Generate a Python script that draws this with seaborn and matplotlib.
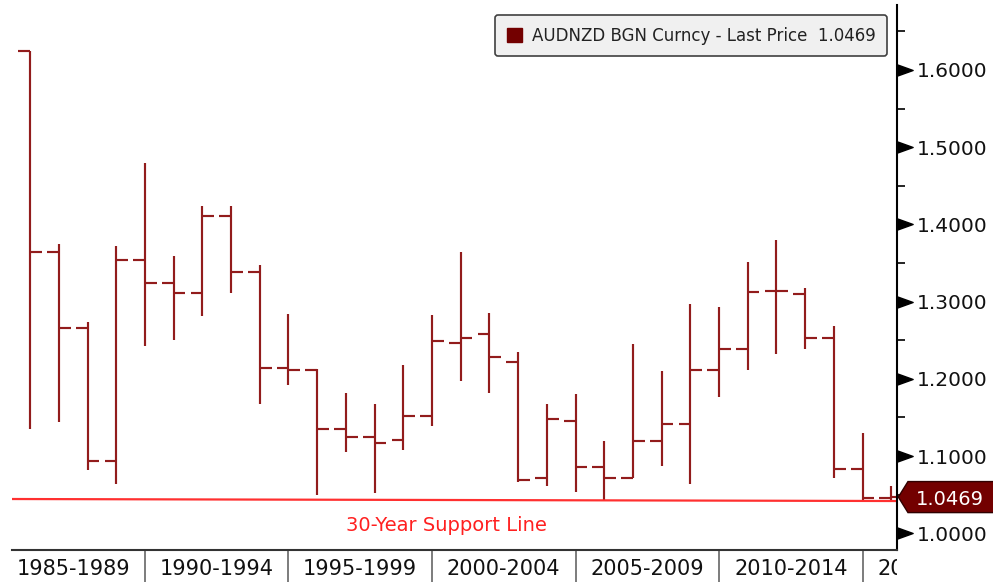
import numpy as np
import pandas as pd
import seaborn as sns
import matplotlib
matplotlib.use("Agg")
import matplotlib.pyplot as plt
from matplotlib.patches import Patch, Polygon
from matplotlib.transforms import blended_transform_factory, Bbox, TransformedBbox

# ---------------- data ----------------
years = list(range(1985, 2016))
open_ = [1.625, 1.364, 1.266, 1.094, 1.3535, 1.324, 1.3116, 1.411, 1.3384, 1.2137,
         1.2115, 1.135, 1.1247, 1.1204, 1.1515, 1.2468, 1.2577, 1.2222, 1.0712, 1.1454,
         1.0855, 1.0712, 1.1191, 1.1416, 1.2119, 1.2391, 1.3134, 1.3099, 1.2533, 1.0833,
         1.0461]
high = [1.625, 1.374, 1.273, 1.372, 1.480, 1.3595, 1.4238, 1.424, 1.3474, 1.2836,
        1.2124, 1.1813, 1.167, 1.2183, 1.2827, 1.3639, 1.2849, 1.2348, 1.167, 1.180,
        1.1195, 1.2455, 1.2106, 1.2973, 1.2935, 1.3513, 1.3802, 1.318, 1.2685, 1.1295,
        1.0613]
low = [1.135, 1.1445, 1.082, 1.064, 1.2426, 1.2503, 1.2818, 1.3108, 1.1674, 1.192,
       1.0496, 1.1057, 1.0518, 1.1079, 1.139, 1.1968, 1.1821, 1.0664, 1.0617, 1.0535,
       1.0422, 1.0712, 1.0872, 1.0638, 1.1761, 1.2115, 1.2318, 1.2387, 1.072, 1.041,
       1.041]
close = [1.364, 1.266, 1.0936, 1.3535, 1.3237, 1.3116, 1.411, 1.3384, 1.2137, 1.2115,
         1.1355, 1.1247, 1.1166, 1.1515, 1.2494, 1.2533, 1.2287, 1.0694, 1.1476, 1.0855,
         1.0712, 1.1191, 1.1416, 1.2119, 1.2391, 1.3121, 1.3138, 1.2533, 1.0833, 1.0461,
         1.0469]
group_starts = [1985, 1990, 1995, 2000, 2005, 2010, 2015]
group_labels = ["1985-1989", "1990-1994", "1995-1999", "2000-2004",
                "2005-2009", "2010-2014", "2015-2019"]
y_ticks = [1.0, 1.1, 1.2, 1.3, 1.4, 1.5, 1.6]
y_minor = [1.05, 1.15, 1.25, 1.35, 1.45, 1.55, 1.65]
last_price = 1.0469
support_line = [1.0444, 1.0418]
support_label = "30-Year Support Line"
series_name = "AUDNZD BGN Curncy - Last Price"

# ---------------- style ----------------
sns.set_style("white")
plt.rcParams['font.family'] = ['DejaVu Sans']

BAR = '#921c1c'
DARK = '#730000'

df = pd.DataFrame(dict(year=years, open=open_, high=high, low=low, close=close))
df['x'] = df['year'] + 1.0   # yearly bars stamped at period end

fig = plt.figure(figsize=(9.93, 5.82), dpi=100)
ax = fig.add_axes([12/993, 32/582, 885/993, 545/582])

xlim = (1985.366, 2016.202)
ylim = (0.97837, 1.68415)

tw = 0.41
ax.vlines(df['x'], df['low'], df['high'], color=BAR, lw=1.55)
ax.hlines(df['open'], df['x'] - tw, df['x'], color=BAR, lw=1.55)
ax.hlines(df['close'], df['x'], df['x'] + tw, color=BAR, lw=1.55)

# support line
sns.lineplot(x=list(xlim), y=support_line, ax=ax, color='#ff3030', lw=1.6,
             legend=False)
ax.text(2000.5, 1.0095, support_label, color='#ff2020', fontsize=14,
        ha='center', va='center')

# spines
for s in ['left', 'top']:
    ax.spines[s].set_visible(False)
ax.spines['right'].set_color('black')
ax.spines['right'].set_linewidth(1.5)
ax.spines['bottom'].set_color('#333333')
ax.spines['bottom'].set_linewidth(1.5)

# x axis: separators
ax.set_xticks(group_starts[1:])
ax.set_xticklabels([''] * (len(group_starts) - 1))
ax.tick_params(axis='x', which='major', length=24, width=1.2, color='#666666',
               direction='out', bottom=True)

# group labels (clipped at the right edge of the plot)
xbt = blended_transform_factory(ax.transData, ax.transAxes)
clipbox = TransformedBbox(Bbox([[0, -1], [1, 1]]), ax.transAxes)
for g, lab in zip(group_starts, group_labels):
    t = ax.text(g + 2.5, -0.0459, lab, transform=xbt, ha='center', va='baseline',
                fontsize=15, color='#111111', clip_on=True)
    t.set_clip_path(None)
    t.set_clip_box(clipbox)

# y axis on right
ax.yaxis.tick_right()
ax.set_yticks(y_ticks)
ax.set_yticklabels([f"{v:.4f}" for v in y_ticks])
ax.set_yticks(y_minor, minor=True)
ax.tick_params(axis='y', which='major', length=0, pad=14, labelsize=14.5,
               labelcolor='#111111', right=True, left=False)
ax.tick_params(axis='y', which='minor', length=6, width=1.2, color='black',
               direction='out', right=True, left=False)

ax.set_xlim(*xlim)
ax.set_ylim(*ylim)
ax.set_xlabel('')
ax.set_ylabel('')

bt = blended_transform_factory(ax.transAxes, ax.transData)
ax.plot([1.0096] * len(y_ticks), y_ticks, transform=bt, ls='none',
        marker=[(-1, -0.72), (1, 0), (-1, 0.72)], ms=11, color='black',
        clip_on=False)

# last price tag
h = 0.0201
poly = Polygon([(1.0015, last_price), (1.0124, last_price + h), (1.13, last_price + h),
                (1.13, last_price - h), (1.0124, last_price - h)],
               closed=True, transform=bt, facecolor=DARK, edgecolor='#300000',
               lw=1.0, clip_on=False, zorder=5)
ax.add_patch(poly)
ax.text(1.0599, last_price, f"{last_price:.4f}", transform=bt, color='white',
        fontsize=14, ha='center', va='center_baseline', zorder=6, clip_on=False)

# legend
leg = ax.legend(handles=[Patch(facecolor=DARK, edgecolor=DARK)],
                labels=[f"{series_name}  {last_price:.4f}"],
                loc='upper right', bbox_to_anchor=(0.9887, 0.9817),
                borderaxespad=0, fontsize=12, frameon=True, fancybox=True,
                facecolor='#f0f0f0', edgecolor='#404040', framealpha=1,
                handlelength=0.9, handleheight=0.9, handletextpad=0.6,
                borderpad=0.7)
leg.get_frame().set_linewidth(1.2)
for t in leg.get_texts():
    t.set_color('#222222')

ax.set_xlim(*xlim)
fig.savefig('out.png', dpi=100)
